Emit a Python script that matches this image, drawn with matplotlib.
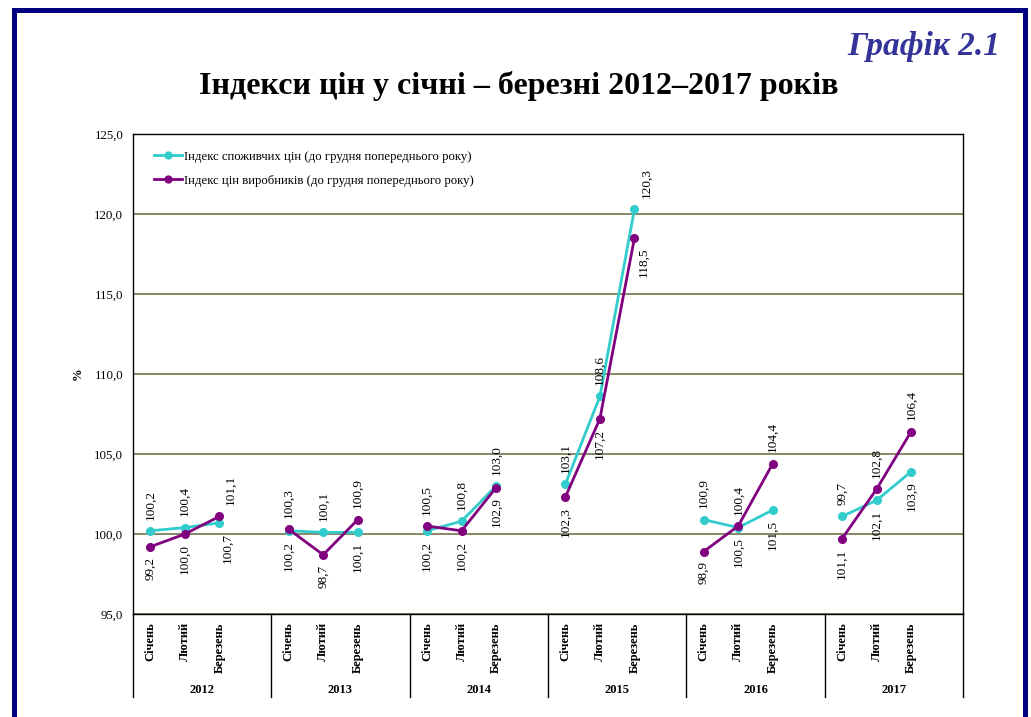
import numpy as np
import matplotlib
matplotlib.use("Agg")
from matplotlib import pyplot as plt
from matplotlib.patches import Rectangle

years = ["2012", "2013", "2014", "2015", "2016", "2017"]
months = ["Січень", "Лютий", "Березень"]

cpi = [100.2, 100.4, 100.7,
       100.2, 100.1, 100.1,
       100.2, 100.8, 103.0,
       103.1, 108.6, 120.3,
       100.9, 100.4, 101.5,
       101.1, 102.1, 103.9]
ppi = [99.2, 100.0, 101.1,
       100.3, 98.7, 100.9,
       100.5, 100.2, 102.9,
       102.3, 107.2, 118.5,
       98.9, 100.5, 104.4,
       99.7, 102.8, 106.4]

# labels as printed on the original chart (upper / lower label of each month)
top_labels = ["100,2", "100,4", "101,1", "100,3", "100,1", "100,9",
              "100,5", "100,8", "103,0", "103,1", "108,6", "120,3",
              "100,9", "100,4", "104,4", "99,7", "102,8", "106,4"]
bottom_labels = ["99,2", "100,0", "100,7", "100,2", "98,7", "100,1",
                 "100,2", "100,2", "102,9", "102,3", "107,2", "118,5",
                 "98,9", "100,5", "101,5", "101,1", "102,1", "103,9"]

cpi_name = "Індекс споживчих цін (до грудня попереднього року)"
ppi_name = "Індекс цін виробників (до грудня попереднього року)"

plt.rcParams['font.family'] = ['Liberation Serif', 'DejaVu Serif']

# each year gets 4 slots: 3 months + one empty slot
def with_gaps(vals):
    a = np.array(vals, dtype=float).reshape(len(years), 3)
    a = np.hstack([a, np.full((len(years), 1), np.nan)])
    return a.flatten()

x = np.arange(len(years) * 4)
month_x = np.array([i * 4 + j for i in range(len(years)) for j in range(3)])

fig = plt.figure(figsize=(10.31, 7.17), dpi=100)
ax = fig.add_axes([133 / 1031, 103 / 717, 830 / 1031, 480 / 717])

ax.plot(x, with_gaps(cpi), color='#33CCCC', lw=2.0, marker='o', ms=5.5, label=cpi_name, zorder=3)
ax.plot(x, with_gaps(ppi), color='#800080', lw=2.0, marker='o', ms=5.5, label=ppi_name, zorder=4)

# a few labels sit a bit to the right in the original, clear of the lines
shift_right = {2: 8, 11: 9}
for i, xp in enumerate(month_x):
    hi = max(cpi[i], ppi[i])
    lo = min(cpi[i], ppi[i])
    dx = shift_right.get(i, 0)
    ax.annotate(top_labels[i], (xp, hi), xytext=(dx, 8), textcoords='offset points',
                rotation=90, ha='center', va='bottom', fontsize=9.5)
    ax.annotate(bottom_labels[i], (xp, lo), xytext=(dx * 0.7, -7), textcoords='offset points',
                rotation=90, ha='center', va='top', fontsize=9.5)

ax.set_xlim(-0.5, len(x) - 0.5)
ax.set_ylim(95, 125)
ax.set_yticks(np.arange(95, 126, 5))
ax.set_yticklabels([f"{v:.1f}".replace('.', ',') for v in np.arange(95, 126, 5)], fontsize=9.3)
ax.tick_params(axis='y', length=0, pad=7)
ax.yaxis.grid(True, color='#7f7f5a', lw=1.3)
ax.set_axisbelow(True)

ax.set_xticks(month_x)
ax.set_xticklabels(months * len(years), rotation=90, fontsize=9, fontweight='bold', va='top')
ax.tick_params(axis='x', length=0, pad=6)

for s in ax.spines.values():
    s.set_color('black')
    s.set_linewidth(1.0)

# category table under the plot
depth = -(697 - 614) / 480
for k in range(len(years) + 1):
    ax.plot([k / len(years)] * 2, [0, depth], color='black', lw=1.0,
            transform=ax.transAxes, clip_on=False)
for i, yr in enumerate(years):
    ax.text((i + 0.5) / len(years), -(690 - 614) / 480, yr, transform=ax.transAxes,
            ha='center', va='center', fontsize=9, fontweight='bold')

ax.legend(loc='upper left', bbox_to_anchor=(0.025, 0.965), frameon=False, fontsize=9.2,
          handlelength=2.2, handletextpad=0.15, labelspacing=0.95, borderpad=0, borderaxespad=0,
          markerscale=0.9)

fig.text(78 / 1031, 1 - 374 / 717, "%", rotation=90, ha='center', va='center',
         fontsize=9, fontweight='bold')

fig.text(0.503, 1 - 86 / 717, "Індекси цін у січні – березні 2012–2017 років",
         ha='center', va='center', fontsize=23, fontweight='bold')
fig.text(1000 / 1031, 1 - 47 / 717, "Графік 2.1", ha='right', va='center',
         fontsize=24, fontweight='bold', style='italic', color='#333399')

fig.patches.append(Rectangle((13.5 / 1031, -0.05), (1024.5 - 13.5) / 1031, (717 - 9.5) / 717 + 0.05,
                             transform=fig.transFigure, fill=False, edgecolor='#000080',
                             lw=3.6, zorder=10))

fig.savefig("out.png", dpi=100)
